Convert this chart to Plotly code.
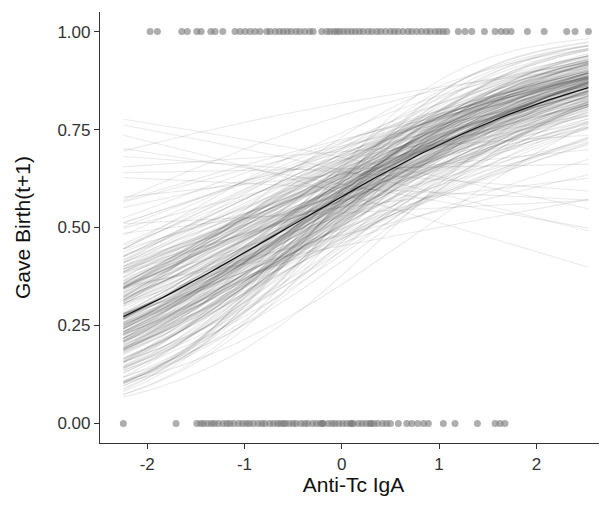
import numpy as np
import plotly.graph_objects as go

# Observed outcomes (Anti-Tc IgA values) for animals that gave birth (1) or not (0)
x_birth1 = [-1.97, -1.895, -1.645, -1.587, -1.49, -1.446, -1.346, -1.302, -1.223, -1.097,
            -1.045, -0.994, -0.942, -0.891, -0.84, -0.771, -0.737, -0.685, -0.64, -0.60,
            -0.56, -0.52, -0.47, -0.43, -0.38, -0.33, -0.294, -0.206, -0.154, -0.12,
            -0.08, -0.05, -0.02, 0.02, 0.06, 0.10, 0.14, 0.18, 0.22, 0.27,
            0.31, 0.36, 0.40, 0.45, 0.50, 0.54, 0.58, 0.63, 0.68, 0.72,
            0.77, 0.82, 0.87, 0.91, 0.96, 1.00, 1.04, 1.079, 1.198, 1.267,
            1.336, 1.466, 1.576, 1.637, 1.689, 1.74, 1.908, 2.08, 2.312, 2.398, 2.535]
x_birth0 = [-2.245, -1.703, -1.49, -1.45, -1.42, -1.38, -1.34, -1.31, -1.27, -1.22,
            -1.18, -1.15, -1.11, -1.06, -1.02, -0.98, -0.95, -0.91, -0.86, -0.82,
            -0.79, -0.74, -0.70, -0.66, -0.63, -0.60, -0.58, -0.54, -0.50, -0.47,
            -0.42, -0.38, -0.35, -0.30, -0.26, -0.22, -0.20, -0.19, -0.14, -0.10,
            -0.07, -0.03, 0.01, 0.05, 0.09, 0.10, 0.12, 0.17, 0.21, 0.25,
            0.29, 0.30, 0.33, 0.37, 0.42, 0.46, 0.50, 0.582, 0.668, 0.72,
            0.78, 0.84, 0.89, 1.044, 1.164, 1.394, 1.576, 1.627, 1.678]

# Posterior draws of the logistic regression (logit scale): intercept and slope
draw_intercept = [
    0.38, -0.05, 0.49, 0.25, 0.75, 0.08, 0.34, 0.60, -0.12, 0.28,
    0.43, 0.17, 0.86, 0.02, 0.52, 0.30, 0.21, 0.65, -0.18, 0.39,
    0.26, 0.56, 0.12, 0.78, 0.36, -0.01, 0.47, 0.23, 1.00, 0.32,
    0.62, 0.06, 0.41, 0.15, 0.69, 0.28, -0.07, 0.54, 0.19, 0.45,
    -0.24, 0.34, 0.80, 0.10, 0.51, 0.25, 0.93, 0.38, 0.01, 0.58,
    0.30, 0.14, 0.71, 0.41, -0.11, 0.47, 0.21, 0.63, 0.36, 0.04,
    0.54, 0.26, 0.89, 0.17, 0.43, -0.35, 0.32, 0.67, 0.23, 0.49,
    0.08, 0.39, 0.76, 0.28, -0.03, 0.56, 0.34, 0.14, 0.84, 0.25,
    0.45, 0.19, 0.60, -0.09, 0.38, 0.73, 0.30, 0.06, 0.52, 0.21,
    1.06, 0.36, 0.12, 0.47, -0.14, 0.41, 0.26, 0.62, 0.02, 0.51,
    0.34, 0.82, 0.15, 0.43, 0.23, 0.58, -0.01, 0.38, 0.69, 0.28,
    0.10, 0.49, 0.32, -0.20, 0.54, 0.25, 0.39, 0.88, 0.19, 0.45,
    0.04, 0.65, 0.30, 0.56, 0.14, 0.36, 0.78, -0.05, 0.41, 0.26,
    0.52, 0.21, 0.95, 0.34, 0.08, 0.47, 0.17, 0.62, 0.38, -0.16,
    0.30, 0.71, 0.23, 0.01, 0.51, 0.39, 0.56, 0.12, 0.43, 0.28,
    0.75, 0.60, 0.35, 0.15, 1.50, 1.30, -0.60, -0.50,
    0.44, 0.09, 0.63, 0.27, -0.15, 0.52, 0.35, 0.81, 0.18, 0.40,
    0.03, 0.57, 0.31, 0.70, 0.22, 0.46, -0.28, 0.37, 0.66, 0.13,
    0.50, 0.29, 0.92, 0.05, 0.42, 0.24, 0.59, -0.08, 0.33, 0.74,
    0.16, 0.48, 0.38, -0.02, 0.61, 0.27, 0.85, 0.11, 0.44, 0.31,
    0.55, 0.20, -0.19, 0.68, 0.36, 0.07, 0.49, 0.26, 0.79, 0.14,
    0.40, 0.58, -0.06, 0.33, 0.22, 0.64, 0.45, 0.10, 0.97, 0.29,
    0.37, -0.12, 0.53, 0.18, 0.71, 0.41, 0.02, 0.60, 0.24, 0.47,
    0.31, 0.86, 0.15, 0.39, -0.23, 0.56, 0.28, 0.66, 0.08, 0.43,
    0.35, 0.20, 0.77, 0.50, -0.04, 0.32, 0.62, 0.13, 0.46, 0.25,
    0.54, 0.04, 0.40, 0.72, 0.19, 0.36, 0.57, -0.10, 0.30, 0.48]
draw_slope = [
    0.60, 0.41, 0.79, 0.54, 0.50, 0.69, 0.31, 0.84, 0.58, 0.46,
    0.64, 0.89, 0.38, 0.56, 0.73, 0.62, 0.12, 0.52, 0.67, 0.44,
    0.57, 0.76, 1.18, 0.48, 0.59, 0.36, 0.66, 0.55, 0.82, 0.42,
    0.02, 0.62, 0.71, 0.51, 0.59, 1.09, 0.39, 0.57, 0.76, 0.49,
    0.64, 0.33, 0.69, 0.53, 0.87, 0.61, 0.45, 0.66, 0.55, -0.08,
    0.78, 0.48, 0.58, 1.26, 0.43, 0.63, 0.52, 0.73, 0.37, 0.60,
    0.83, 0.50, 0.28, 0.65, 0.56, 0.74, 0.45, 1.05, 0.57, 0.40,
    0.68, 0.52, 0.62, 0.34, 0.78, 0.54, 0.59, 0.85, 0.47, 0.64,
    -0.18, 0.70, 0.55, 0.43, 1.14, 0.59, 0.50, 0.75, 0.38, 0.62,
    0.57, 0.80, 0.32, 0.66, 0.53, 0.72, 0.48, 1.33, 0.58, 0.42,
    0.61, 0.08, 0.69, 0.51, 0.85, 0.56, 0.45, 0.77, 0.59, 0.36,
    0.64, 1.11, 0.52, 0.71, 0.40, 0.62, 0.80, 0.49, 0.57, 0.30,
    0.67, 0.55, 0.87, 0.44, 0.63, 0.73, 0.48, 0.59, -0.05, 0.69,
    0.54, 0.83, 0.38, 0.65, 0.57, 1.21, 0.50, 0.60, 0.76, 0.35,
    0.66, 0.52, 0.58, 0.81, 0.43, 0.62, 0.11, 0.71, 0.55, 1.07,
    -0.22, -0.25, -0.30, 0.05, 0.30, 0.45, 0.70, 0.95,
    0.55, 0.72, 0.41, 0.63, 0.88, 0.49, 0.60, 0.34, 0.77, 0.52,
    0.95, 0.46, 0.67, 0.58, 0.29, 0.81, 0.70, 0.44, 0.62, 0.53,
    1.01, 0.38, 0.57, 0.74, 0.47, 0.86, 0.61, 0.25, 0.69, 0.51,
    0.79, 0.42, 0.65, 1.12, 0.56, 0.33, 0.73, 0.60, 0.48, 0.90,
    0.54, 0.68, 0.19, 0.59, 0.83, 0.45, 0.64, 0.97, 0.50, 0.71,
    0.37, 0.57, 0.87, 0.66, 0.43, 0.76, 0.53, 1.04, 0.31, 0.62,
    0.80, 0.49, 0.58, 0.93, 0.40, 0.68, 0.55, 0.27, 0.75, 0.61,
    1.17, 0.46, 0.72, 0.52, 0.85, 0.36, 0.63, 0.57, 0.99, 0.44,
    0.70, 0.60, 0.32, 0.78, 0.51, 0.65, 0.41, 0.89, 0.56, 1.08,
    0.47, 0.74, 0.59, 0.23, 0.67, 0.82, 0.50, 0.62, 0.94, 0.39]

# Posterior mean fit
mean_intercept = 0.32
mean_slope = 0.58

tick_vals_x = [-2, -1, 0, 1, 2]
tick_text_x = ["-2", "-1", "0", "1", "2"]
tick_vals_y = [0, 0.25, 0.5, 0.75, 1.0]
tick_text_y = ["0.00", "0.25", "0.50", "0.75", "1.00"]


def inv_logit(z):
    return 1.0 / (1.0 + np.exp(-z))


all_x = x_birth1 + x_birth0
xgrid = np.linspace(min(all_x), max(all_x), 60)

fig = go.Figure()

xs, ys = [], []
for a, b in zip(draw_intercept, draw_slope):
    xs.extend(list(xgrid) + [None])
    ys.extend(list(inv_logit(a + b * xgrid)) + [None])
fig.add_trace(go.Scatter(x=xs, y=ys, mode="lines",
                         line=dict(color="rgba(60,60,60,0.11)", width=1.1),
                         hoverinfo="skip", showlegend=False))

fig.add_trace(go.Scatter(x=xgrid, y=inv_logit(mean_intercept + mean_slope * xgrid),
                         mode="lines", line=dict(color="#111111", width=1.3),
                         showlegend=False))

fig.add_trace(go.Scatter(x=x_birth1, y=[1] * len(x_birth1), mode="markers",
                         marker=dict(size=7, color="rgba(120,120,120,0.6)"),
                         showlegend=False))
fig.add_trace(go.Scatter(x=x_birth0, y=[0] * len(x_birth0), mode="markers",
                         marker=dict(size=7, color="rgba(120,120,120,0.6)"),
                         showlegend=False))

font_family = "Liberation Sans, Arial, sans-serif"
fig.update_layout(
    width=599, height=499,
    margin=dict(l=92, r=0, t=4, b=64),
    plot_bgcolor="white", paper_bgcolor="white",
    font=dict(family=font_family, color="#333333"),
)
fig.update_xaxes(range=[-2.485, 2.726], tickvals=tick_vals_x, ticktext=tick_text_x,
                 showgrid=False, zeroline=False, showline=True, linecolor="#333333",
                 linewidth=1.2, ticks="outside", ticklen=5, tickcolor="#333333",
                 tickfont=dict(size=17, color="#333333"),
                 title=dict(text="Anti-Tc IgA", font=dict(size=21, color="#111111"), standoff=2),
                 automargin=False)
fig.update_yaxes(range=[-0.05, 1.05], tickvals=tick_vals_y, ticktext=tick_text_y,
                 showgrid=False, zeroline=False, showline=True, linecolor="#333333",
                 linewidth=1.2, ticks="outside", ticklen=5, tickcolor="#333333",
                 tickfont=dict(size=17, color="#333333"),
                 title=dict(text="Gave Birth(t+1)", font=dict(size=21, color="#111111"), standoff=21),
                 automargin=False)

fig.write_html("out.html")
